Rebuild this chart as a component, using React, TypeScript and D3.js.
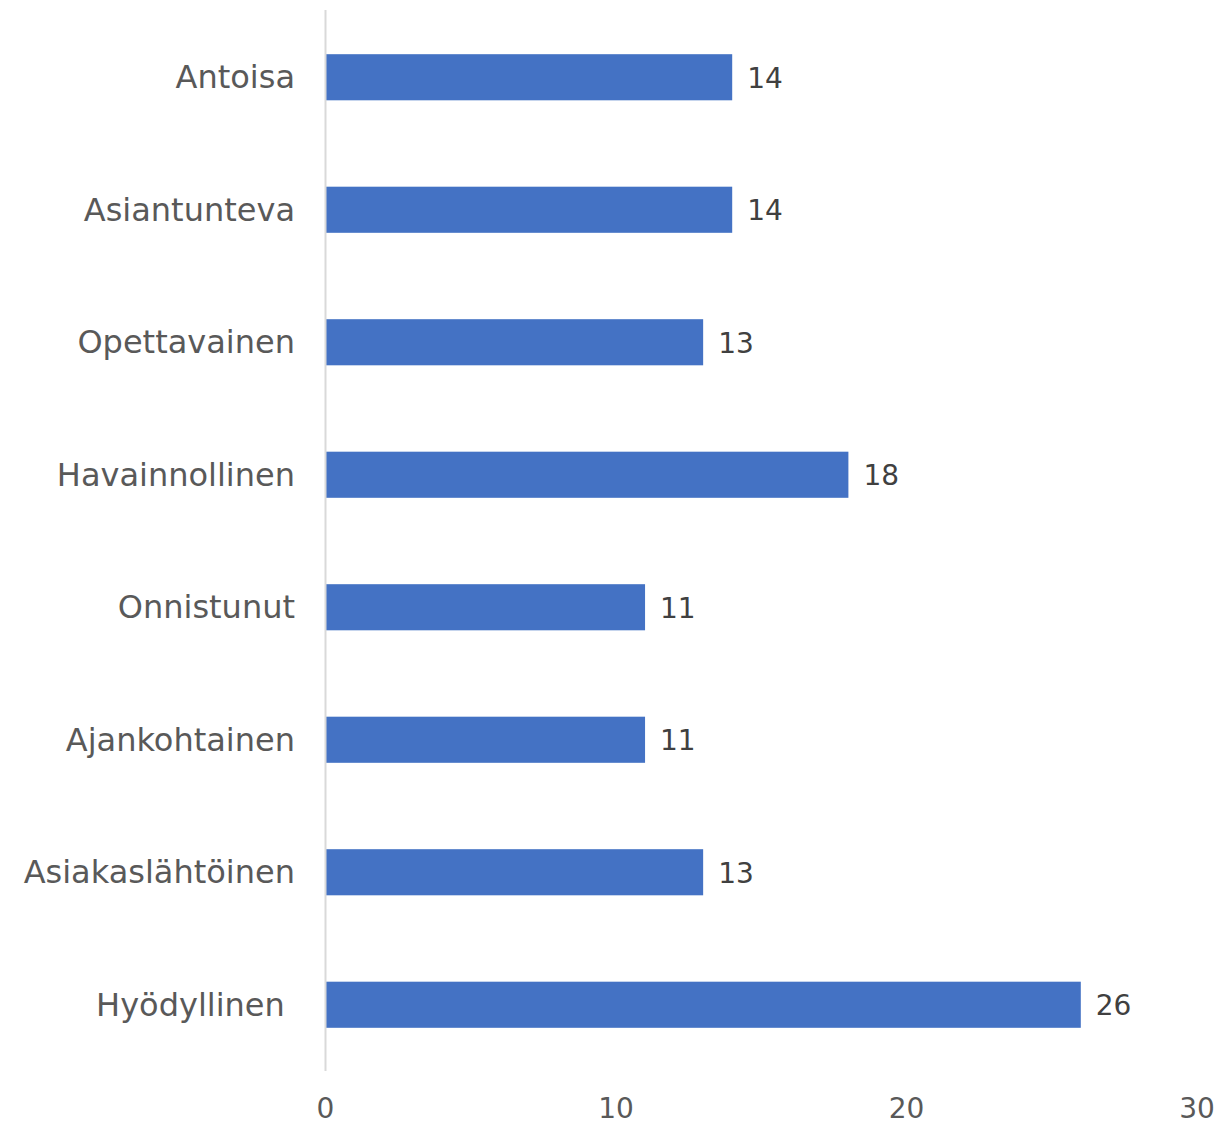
import * as d3 from "d3";

const categories = [
  "Antoisa",
  "Asiantunteva",
  "Opettavainen",
  "Havainnollinen",
  "Onnistunut",
  "Ajankohtainen",
  "Asiakaslähtöinen",
  "Hyödyllinen ",
];
const values = [14, 14, 13, 18, 11, 11, 13, 26];
const xTicks = [0, 10, 20, 30];

const W = 1222;
const H = 1125;
const FONT = "'DejaVu Sans', sans-serif";

export default function App() {
  const x = d3.scaleLinear().domain([0, 30]).range([325.5, 1197]);
  const y = d3.scaleBand().domain(categories).range([11, 1071]).paddingInner(0.652).paddingOuter(0.326);
  const rows = categories.map((c, i) => ({ c, v: values[i] }));

  return (
    <svg
      width={W}
      height={H}
      style={{ position: "absolute", left: 0, top: 0, background: "#fff" }}
      fontFamily={FONT}
    >
      {rows.map((d) => (
        <g key={d.c}>
          <rect
            x={x(0) + 0.5}
            y={y(d.c)!}
            width={x(d.v) - x(0) - 0.5}
            height={y.bandwidth()}
            fill="#4472c4"
          />
          <text
            x={295}
            y={y(d.c)! + y.bandwidth() / 2}
            dy="0.35em"
            textAnchor="end"
            fontSize={32}
            fill="#595959"
            style={{ whiteSpace: "pre" }}
          >
            {d.c}
          </text>
          <text
            x={x(d.v) + 15}
            y={y(d.c)! + y.bandwidth() / 2}
            dy="0.38em"
            fontSize={28}
            fill="#404040"
          >
            {d.v}
          </text>
        </g>
      ))}
      <line x1={x(0)} x2={x(0)} y1={10} y2={1071} stroke="#d9d9d9" strokeWidth={2} />
      {xTicks.map((t) => (
        <text key={t} x={x(t)} y={1118} textAnchor="middle" fontSize={28} fill="#595959">
          {t}
        </text>
      ))}
    </svg>
  );
}
